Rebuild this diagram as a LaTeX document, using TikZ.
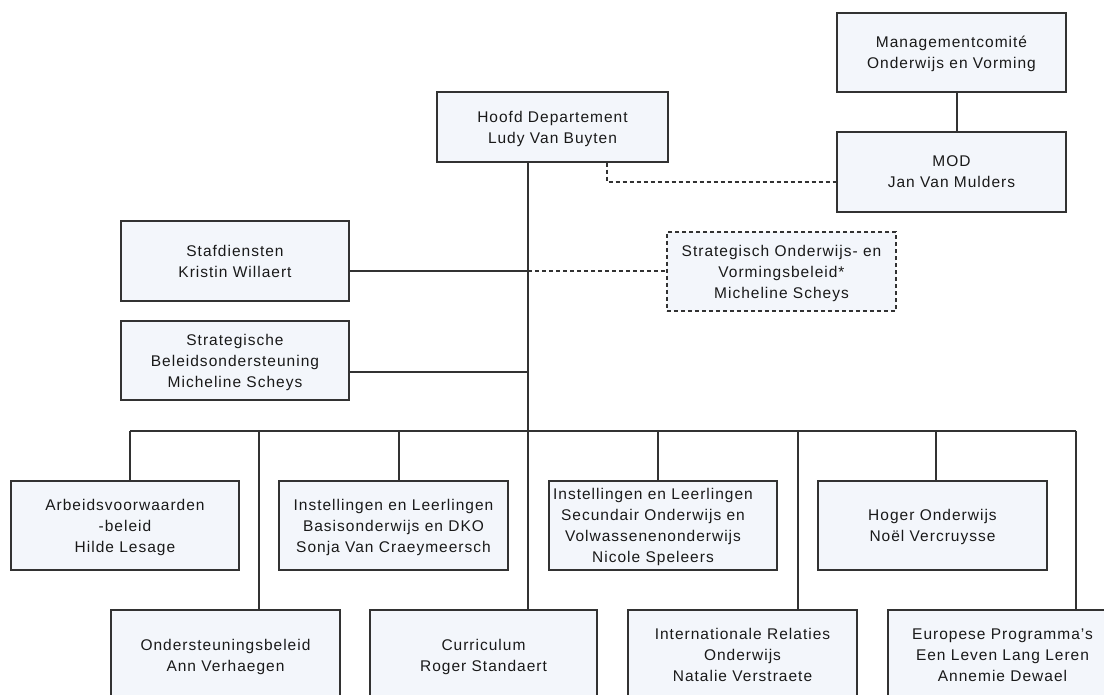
\documentclass[tikz,border=0pt]{standalone}
\usepackage{fontspec}
\setmainfont[LetterSpace=6.5]{Liberation Sans}
\definecolor{boxfill}{RGB}{243,246,251}
\definecolor{lineclr}{RGB}{50,50,50}
\definecolor{txtclr}{RGB}{25,25,25}
\begin{document}
\begin{tikzpicture}[x=1pt,y=-1pt,
  txtstyle/.style={align=center, text=txtclr, font=\fontsize{15.5}{21}\selectfont, text depth=-6pt},
  orgbox/.style={txtstyle, draw=lineclr, fill=boxfill, line width=1.2pt, minimum width=229pt,
    minimum height=80pt, inner sep=0pt},
  dashbox/.style={orgbox, dash pattern=on 4pt off 3pt},
  conn/.style={draw=lineclr, line width=1.3pt},
  dconn/.style={draw=lineclr, line width=1.2pt, dash pattern=on 4pt off 3pt}]
\useasboundingbox (0,0) rectangle (1104,695);
\clip (0,0) rectangle (1104,695);
\fill[white] (0,0) rectangle (1104,695);

% top
\node[orgbox, minimum height=79pt] (mc) at (951.5,52.5) {Managementcomité\\Onderwijs en Vorming};
\node[orgbox] (mod) at (951.5,172) {MOD\\Jan Van Mulders};
\node[orgbox, minimum width=231pt, minimum height=70pt] (hoofd) at (552.5,127) {Hoofd Departement\\Ludy Van Buyten};
\node[orgbox, minimum width=228pt] (staf) at (235,261) {Stafdiensten\\Kristin Willaert};
\node[orgbox, minimum width=228pt, minimum height=79pt] (strat) at (235,360.5) {Strategische\\Beleidsondersteuning\\Micheline Scheys};
\node[dashbox, minimum height=79pt] (svb) at (781.5,271.5) {Strategisch Onderwijs- en\\Vormingsbeleid*\\Micheline Scheys};

% row 1
\node[orgbox, minimum width=228pt, minimum height=89pt] (arb) at (125,525.5) {Arbeidsvoorwaarden\\-beleid\\Hilde Lesage};
\node[orgbox, minimum height=89pt] (bas) at (393.5,525.5) {Instellingen en Leerlingen\\Basisonderwijs en DKO\\Sonja Van Craeymeersch};
\node[orgbox, minimum width=228pt, minimum height=89pt] (sec) at (663,525.5) {};
\node[txtstyle, inner sep=0pt] (sectxt) at (653,525.5) {Instellingen en Leerlingen\\Secundair Onderwijs en\\Volwassenenonderwijs\\Nicole Speleers};
\node[orgbox, minimum height=89pt] (hog) at (932.5,525.5) {Hoger Onderwijs\\Noël Vercruysse};

% row 2
\node[orgbox, minimum height=90pt] (ond) at (225.5,655) {Ondersteuningsbeleid\\Ann Verhaegen};
\node[orgbox, minimum width=227pt, minimum height=90pt] (cur) at (483.5,655) {Curriculum\\Roger Standaert};
\node[orgbox, minimum height=90pt] (int) at (742.5,655) {Internationale Relaties\\Onderwijs\\Natalie Verstraete};
\node[orgbox, minimum height=90pt] (eur) at (1002.5,655) {Europese Programma's\\Een Leven Lang Leren\\Annemie Dewael};

% coordinates
\coordinate (mcx) at (957,112);
\coordinate (dk) at (607,182);
\coordinate (jstaf) at (528,271);
\coordinate (jstrat) at (528,372);
\coordinate (trunk) at (528,431);
\coordinate (barb) at (130,431);
\coordinate (bond) at (259,431);
\coordinate (bbas) at (399,431);
\coordinate (bsec) at (658,431);
\coordinate (bint) at (798,431);
\coordinate (bhog) at (936,431);
\coordinate (beur) at (1076,431);

% connectors
\draw[conn] (mc.south -| mcx) -- (mod.north -| mcx);
\draw[dconn] (hoofd.south -| dk) -- (dk) -- (mod.west |- dk);
\draw[conn] (hoofd.south -| trunk) -- (trunk);
\draw[conn] (staf.east |- jstaf) -- (jstaf);
\draw[dconn] (jstaf) -- (svb.west |- jstaf);
\draw[conn] (strat.east |- jstrat) -- (jstrat);
\draw[conn] (barb) -- (beur);
\draw[conn] (barb) -- (barb |- arb.north);
\draw[conn] (bbas) -- (bbas |- bas.north);
\draw[conn] (bsec) -- (bsec |- sec.north);
\draw[conn] (bhog) -- (bhog |- hog.north);
\draw[conn] (bond) -- (bond |- ond.north);
\draw[conn] (trunk) -- (trunk |- cur.north);
\draw[conn] (bint) -- (bint |- int.north);
\draw[conn] (beur) -- (beur |- eur.north);
\end{tikzpicture}
\end{document}
